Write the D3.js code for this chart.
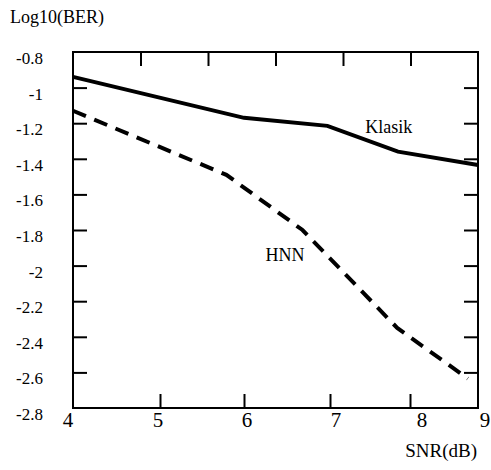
<!DOCTYPE html>
<html>
<head>
<meta charset="utf-8">
<script src="https://cdn.jsdelivr.net/npm/d3@7"></script>
<style>
    body { margin: 0; background: #fff; }
    svg text { font-family: 'Liberation Serif', 'DejaVu Serif', 'Times New Roman', serif; fill: #000; }
</style>
</head>
<body>
<svg id="chart" width="491" height="470"></svg>
<script>
let snrTicks = [4, 5, 6, 7, 8, 9]
let berTicks = [-0.8, -1, -1.2, -1.4, -1.6, -1.8, -2, -2.2, -2.4, -2.6, -2.8]

let klasikSnr = [4, 6, 6.97, 7.85, 9]
let klasikBer = [-0.94, -1.17, -1.215, -1.36, -1.435]

let hnnSnr = [4, 5.79, 6.68, 7.84, 8.85]
let hnnBer = [-1.13, -1.49, -1.8, -2.35, -2.635]

let seriesLabels = [
    {name: 'Klasik', snr: 7.44, ber: -1.255},
    {name: 'HNN', snr: 6.25, ber: -1.975}
]

function main() {
    let svg = d3.select('#chart'),
        left = 73, right = 478, top = 52, bottom = 408,
        tick = 14,
        serif = "'Liberation Serif', 'DejaVu Serif', 'Times New Roman', serif"

    // hand drawn figure: bottom ticks are not evenly spaced
    let x = d3.scaleLinear().domain(snrTicks).range([73, 160, 244, 330, 410, 478]),
        xLabel = d3.scaleLinear().domain(snrTicks).range([68, 158, 247, 336, 422, 485]),
        xTop = d3.scaleLinear().domain([0, 6]).range([left, right]),
        y = d3.scaleLinear().domain([-2.8, -0.8]).range([bottom, top])

    let inner = berTicks.slice(1, -1)

    svg.append('g')
        .attr('transform', 'translate(' + left + ',0)')
        .call(d3.axisLeft(y).tickValues(inner).tickSize(-tick).tickFormat(''))
    svg.append('g')
        .attr('transform', 'translate(' + right + ',0)')
        .call(d3.axisRight(y).tickValues(inner).tickSize(-tick).tickFormat(''))
    svg.append('g')
        .attr('transform', 'translate(0,' + bottom + ')')
        .call(d3.axisBottom(x).tickValues(snrTicks.slice(1, -1)).tickSize(-tick).tickFormat(''))
    svg.append('g')
        .attr('transform', 'translate(0,' + top + ')')
        .call(d3.axisTop(xTop).tickValues([1, 2, 3, 4, 5]).tickSize(-tick).tickFormat(''))

    svg.selectAll('.domain').remove()
    svg.selectAll('.tick line').attr('stroke', '#000').attr('stroke-width', 2)

    svg.append('rect')
        .attr('x', left).attr('y', top)
        .attr('width', right - left).attr('height', bottom - top)
        .attr('fill', 'none').attr('stroke', '#000').attr('stroke-width', 2)

    let labels = svg.append('g').attr('font-family', serif).style('font-family', serif)

    labels.selectAll('.ylab')
        .data(berTicks)
        .enter()
        .append('text')
        .attr('class', 'ylab')
        .attr('x', 43)
        .attr('y', d => y(d) + 12)
        .attr('text-anchor', 'end')
        .style('font-size', '17px')
        .text(d => String(d))

    labels.selectAll('.xlab')
        .data(snrTicks)
        .enter()
        .append('text')
        .attr('class', 'xlab')
        .attr('x', d => xLabel(d))
        .attr('y', 427)
        .attr('text-anchor', 'middle')
        .style('font-size', '21px')
        .text(d => d)

    labels.append('text')
        .attr('x', 10).attr('y', 23)
        .style('font-size', '18px')
        .text('Log10(BER)')

    labels.append('text')
        .attr('x', 477).attr('y', 457)
        .attr('text-anchor', 'end')
        .style('font-size', '19px')
        .text('SNR(dB)')

    let line = d3.line().x(d => x(d[0])).y(d => y(d[1]))

    svg.append('path')
        .datum(d3.zip(klasikSnr, klasikBer))
        .attr('d', line)
        .attr('fill', 'none')
        .attr('stroke', '#000')
        .attr('stroke-width', 4)

    svg.append('path')
        .datum(d3.zip(hnnSnr, hnnBer))
        .attr('d', line)
        .attr('fill', 'none')
        .attr('stroke', '#000')
        .attr('stroke-width', 4)
        .attr('stroke-dasharray', '14,9')

    labels.selectAll('.serieslab')
        .data(seriesLabels)
        .enter()
        .append('text')
        .attr('class', 'serieslab')
        .attr('x', d => x(d.snr))
        .attr('y', d => y(d.ber))
        .style('font-size', '18px')
        .text(d => d.name)
}

main()
</script>
</body>
</html>
